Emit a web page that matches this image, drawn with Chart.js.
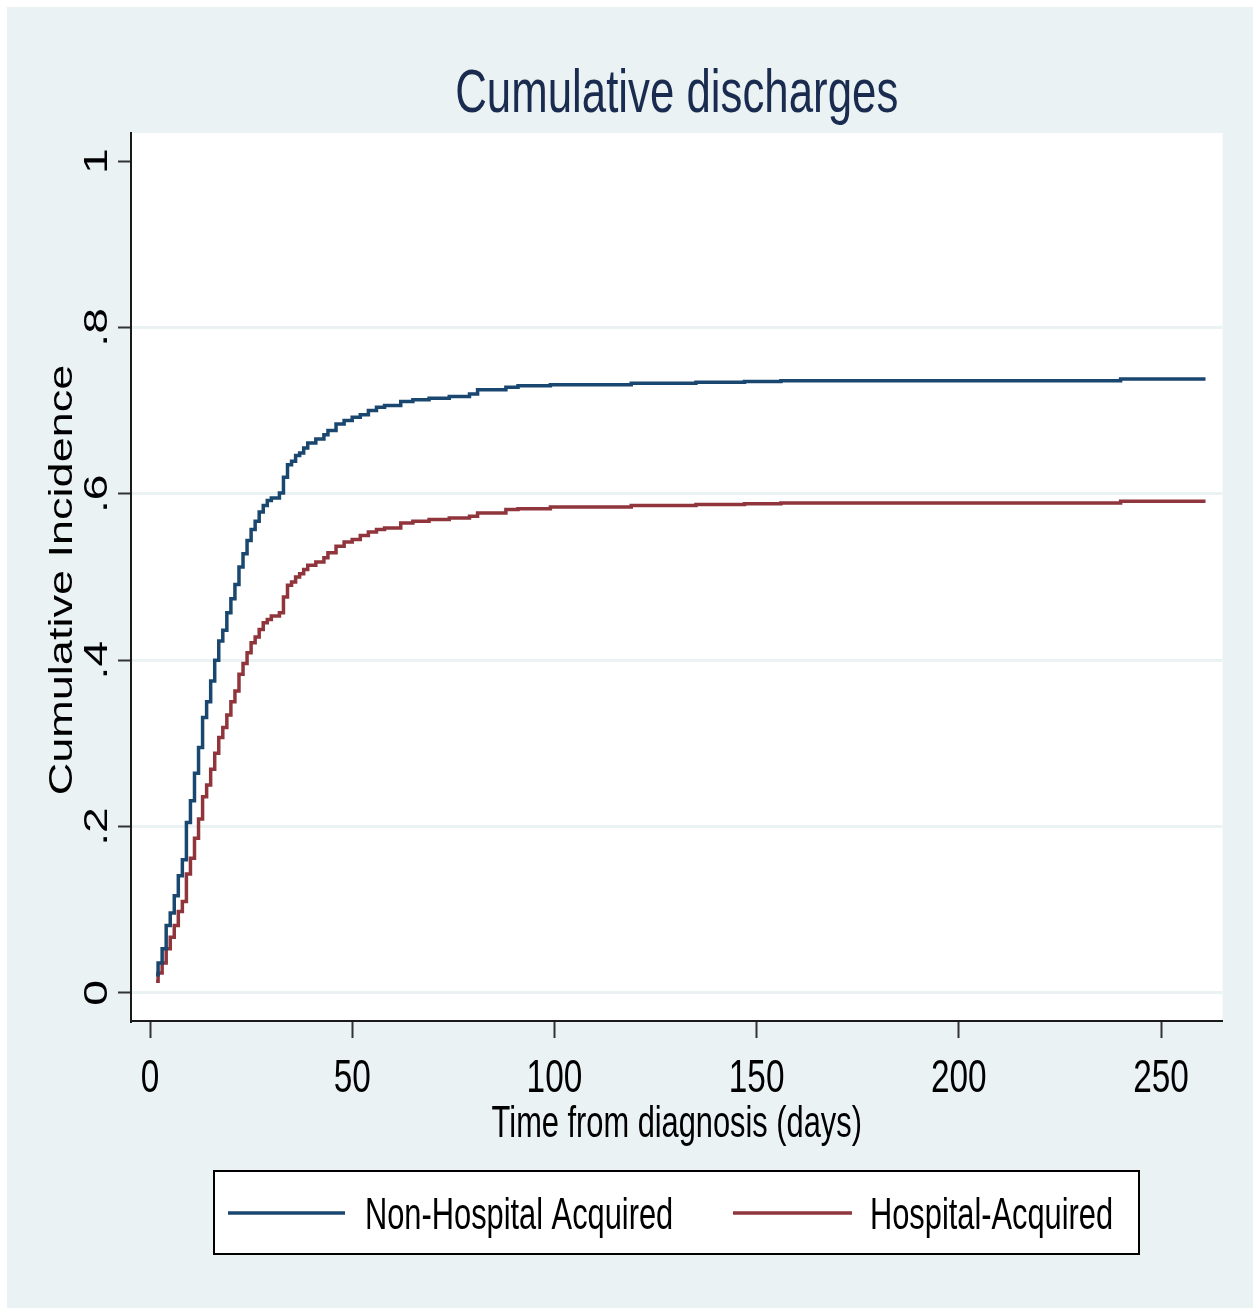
<!DOCTYPE html>
<html>
<head>
    <title>Cumulative discharges</title>
    <script src="https://cdn.jsdelivr.net/npm/chart.js"></script>
    <style>
        body { margin: 0; background: #ffffff; }
        canvas { display: block; }
    </style>
</head>
<body>
    <canvas id="myChart" width="1253" height="1308"></canvas>
    <script>
        // step times (days) and cumulative incidence
        const days = [1.5, 2, 3, 4, 5, 6, 7, 8, 9, 10, 11, 12, 13, 14, 15, 16, 17, 18, 19, 20,
            21, 22, 23, 24, 25, 26, 27, 28, 29, 30, 32, 33, 34, 35, 36, 37, 38, 39, 41, 43,
            44, 46, 48, 50, 52, 54, 56, 58, 62, 65, 69, 74, 79, 81, 88, 91, 99, 119, 135, 147,
            156, 240, 261];
        const nonHospital = [0.022, 0.036, 0.053, 0.081, 0.096, 0.117, 0.141, 0.160, 0.205, 0.231,
            0.264, 0.295, 0.331, 0.350, 0.375, 0.400, 0.423, 0.436, 0.457, 0.474,
            0.491, 0.512, 0.528, 0.544, 0.557, 0.567, 0.578, 0.586, 0.592, 0.595,
            0.601, 0.620, 0.635, 0.639, 0.646, 0.649, 0.655, 0.661, 0.666, 0.671,
            0.676, 0.684, 0.688, 0.692, 0.695, 0.700, 0.704, 0.706, 0.711, 0.713,
            0.715, 0.717, 0.720, 0.725, 0.728, 0.730, 0.731, 0.733, 0.734, 0.735,
            0.736, 0.738, 0.738];
        const hospital = [0.014, 0.024, 0.036, 0.053, 0.067, 0.081, 0.098, 0.110, 0.143, 0.162,
            0.186, 0.209, 0.236, 0.250, 0.269, 0.288, 0.307, 0.319, 0.334, 0.350,
            0.363, 0.383, 0.396, 0.409, 0.421, 0.428, 0.437, 0.445, 0.449, 0.453,
            0.457, 0.476, 0.490, 0.494, 0.500, 0.504, 0.509, 0.514, 0.518, 0.523,
            0.529, 0.537, 0.542, 0.545, 0.550, 0.554, 0.557, 0.559, 0.565, 0.567,
            0.569, 0.571, 0.573, 0.577, 0.581, 0.582, 0.584, 0.586, 0.587, 0.588,
            0.589, 0.591, 0.591];
        const seriesNames = ['Non-Hospital Acquired', 'Hospital-Acquired'];
        const xTicks = [0, 50, 100, 150, 200, 250];
        const yTicks = [0, 0.2, 0.4, 0.6, 0.8, 1];
        const yTickLabels = ['0', '.2', '.4', '.6', '.8', '1'];

        const BG = '#eaf2f3';
        const BLUE = '#1a476f';
        const RED = '#90353b';
        const FONT = '"Liberation Sans", Arial, sans-serif';

        // horizontal text, squeezed sideways like the source image
        function hText(ctx, str, x, y, size, sx, align, color) {
            ctx.save();
            ctx.translate(x, y);
            ctx.scale(sx, 1);
            ctx.font = size + 'px ' + FONT;
            ctx.fillStyle = color;
            ctx.textAlign = align;
            ctx.textBaseline = 'alphabetic';
            ctx.fillText(str, 0, 0);
            ctx.restore();
        }

        // vertical text reading upwards, x is the baseline
        function vText(ctx, str, x, y, size, k, color) {
            ctx.save();
            ctx.translate(x, y);
            ctx.rotate(-Math.PI / 2);
            ctx.scale(k, 1);
            ctx.font = size + 'px ' + FONT;
            ctx.fillStyle = color;
            ctx.textAlign = 'center';
            ctx.textBaseline = 'alphabetic';
            ctx.fillText(str, 0, 0);
            ctx.restore();
        }

        const background = {
            id: 'background',
            beforeDraw(chart) {
                const ctx = chart.ctx;
                const a = chart.chartArea;
                ctx.save();
                ctx.fillStyle = '#ffffff';
                ctx.fillRect(0, 0, chart.width, chart.height);
                ctx.fillStyle = BG;
                ctx.fillRect(7, 7, chart.width - 7, chart.height - 7);
                ctx.fillStyle = '#ffffff';
                ctx.fillRect(a.left, a.top, a.right - a.left, a.bottom - a.top);
                ctx.restore();
            }
        };

        const texts = {
            id: 'texts',
            afterDraw(chart) {
                const ctx = chart.ctx;
                const xs = chart.scales.x;
                const ys = chart.scales.y;
                const cx = (chart.chartArea.left + chart.chartArea.right) / 2;

                hText(ctx, 'Cumulative discharges', cx, 112, 61, 0.718, 'center', '#1a2b50');

                xTicks.forEach(v => {
                    hText(ctx, String(v), xs.getPixelForValue(v), 1092, 47, 0.71, 'center', '#000000');
                });
                hText(ctx, 'Time from diagnosis (days)', cx, 1137, 44, 0.70, 'center', '#000000');

                yTicks.forEach((v, i) => {
                    vText(ctx, yTickLabels[i], 107, ys.getPixelForValue(v), 33, 1.4, '#000000');
                });
                vText(ctx, 'Cumulative Incidence', 72, 580, 33, 1.365, '#000000');

                // legend box
                ctx.save();
                ctx.strokeStyle = '#000000';
                ctx.lineWidth = 2;
                ctx.fillStyle = '#ffffff';
                ctx.fillRect(214, 1171, 925, 83);
                ctx.strokeRect(214, 1171, 925, 83);
                const items = [
                    { x0: 228, x1: 345, tx: 365 },
                    { x0: 733, x1: 852, tx: 870 }
                ];
                items.forEach((it, i) => {
                    ctx.strokeStyle = chart.data.datasets[i].borderColor;
                    ctx.lineWidth = 3.5;
                    ctx.beginPath();
                    ctx.moveTo(it.x0, 1213);
                    ctx.lineTo(it.x1, 1213);
                    ctx.stroke();
                    hText(ctx, seriesNames[i], it.tx, 1229, 44, 0.70, 'left', '#000000');
                });
                ctx.restore();
            }
        };

        const ctx = document.getElementById('myChart').getContext('2d');
        new Chart(ctx, {
            type: 'line',
            data: {
                datasets: [
                    {
                        label: seriesNames[0],
                        data: days.map((d, i) => ({ x: d, y: nonHospital[i] })),
                        borderColor: BLUE,
                        borderWidth: 3.5,
                        pointRadius: 0,
                        stepped: 'before',
                        fill: false
                    },
                    {
                        label: seriesNames[1],
                        data: days.map((d, i) => ({ x: d, y: hospital[i] })),
                        borderColor: RED,
                        borderWidth: 3.5,
                        pointRadius: 0,
                        stepped: 'before',
                        fill: false
                    }
                ]
            },
            options: {
                responsive: false,
                animation: false,
                layout: { padding: { left: 0, top: 133, right: 30.5, bottom: 0 } },
                plugins: {
                    legend: { display: false },
                    title: { display: false },
                    tooltip: { enabled: false }
                },
                scales: {
                    x: {
                        type: 'linear',
                        min: -4.7,
                        max: 265.2,
                        afterBuildTicks: s => { s.ticks = xTicks.map(v => ({ value: v })); },
                        afterFit: s => { s.height = 1308 - 1021; },
                        ticks: { display: false },
                        grid: { drawOnChartArea: false, tickLength: 17, tickColor: '#333333', tickWidth: 2 },
                        border: { color: '#1a1a1a', width: 2 }
                    },
                    y: {
                        type: 'linear',
                        min: -0.0337,
                        max: 1.0337,
                        afterBuildTicks: s => { s.ticks = yTicks.map(v => ({ value: v })); },
                        afterFit: s => { s.width = 131; },
                        ticks: { display: false },
                        grid: {
                            color: c => (c.tick && c.tick.value === 1) ? 'rgba(0,0,0,0)' : BG,
                            lineWidth: 3,
                            tickLength: 13,
                            tickColor: '#333333',
                            tickWidth: 2
                        },
                        border: { color: '#1a1a1a', width: 2 }
                    }
                }
            },
            plugins: [background, texts]
        });
    </script>
</body>
</html>
